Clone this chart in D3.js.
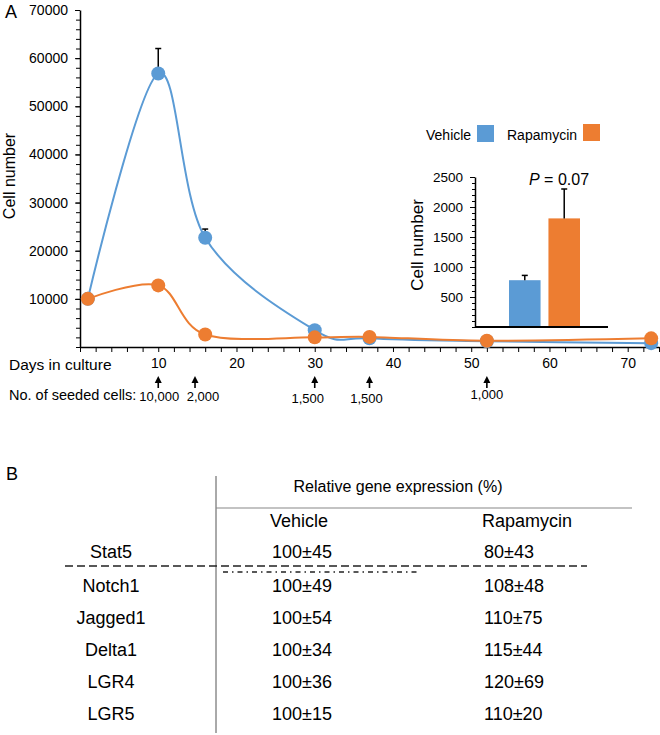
<!DOCTYPE html>
<html>
<head>
<meta charset="utf-8">
<script src="https://cdn.jsdelivr.net/npm/d3@7"></script>
<style>
  body { margin: 0; background: #fff; }
  text { font-family: "Liberation Sans", Arial, sans-serif; fill: #000; }
</style>
</head>
<body>
<svg id="chart"></svg>
<script>
// data
var days = [1, 10, 16, 30, 37, 52, 73];
var vehicleCells = [10000, 56800, 22700, 3500, 1800, 1200, 800];
var vehicleErr = [0, 5200, 1800, 0, 0, 0, 0];
var rapaCells = [10000, 12800, 2600, 2000, 2100, 1300, 1800];
var rapaErr = [0, 0, 0, 0, 0, 0, 0];

var seededDays = [10, 14.7, 30, 37, 52];
var seededLabels = ["10,000", "2,000", "1,500", "1,500", "1,000"];

var insetGroups = ["Vehicle", "Rapamycin"];
var insetValues = [780, 1810];
var insetErr = [80, 490];

var genes = ["Stat5", "Notch1", "Jagged1", "Delta1", "LGR4", "LGR5"];
var vehicleExpr = ["100±45", "100±49", "100±54", "100±34", "100±36", "100±15"];
var rapaExpr = ["80±43", "108±48", "110±75", "115±44", "120±69", "110±20"];

var WIDTH = 660, HEIGHT = 735;
var BLUE = "#5b9bd5", ORANGE = "#ed7d31";
//nudges so the seeded-cell labels sit where the original put them
var SEED_LABEL_DX = [1, 8, -7, -3, 0];
var SEED_LABEL_DY = [0, 0, 2, 2, -2];

var svg = d3.select("#chart")
    .attr("width", WIDTH)
    .attr("height", HEIGHT);

//scales for the main chart
var x = d3.scaleLinear().domain([0, 74]).range([80, 659]);
var y = d3.scaleLinear().domain([0, 70000]).range([347, 10]);

//panel letter
svg.append("text")
    .attr("x", 5).attr("y", 18)
    .style("font-size", "18px")
    .text("A");

//y axis, major then minor ticks
var yAxis = svg.append("g")
    .attr("transform", "translate(80,0)")
    .call(d3.axisLeft(y).tickValues(d3.range(10000, 70001, 10000))
        .tickSize(5).tickPadding(7).tickSizeOuter(0).tickFormat(d3.format("d")));
yAxis.selectAll("text").style("font-size", "14px").style("font-family", "Liberation Sans, Arial, sans-serif");
svg.append("g")
    .attr("transform", "translate(80,0)")
    .call(d3.axisLeft(y).tickValues(d3.range(0, 70001, 2000)).tickSize(4).tickFormat(""))
    .select(".domain").remove();

//x axis
var xAxis = svg.append("g")
    .attr("transform", "translate(0,347)")
    .call(d3.axisBottom(x).tickValues(d3.range(0, 75, 2))
        .tickSize(5).tickPadding(6).tickSizeOuter(0)
        .tickFormat(function (d) { return (d > 0 && d % 10 === 0) ? d : ""; }));
xAxis.selectAll("text").style("font-size", "14px").style("font-family", "Liberation Sans, Arial, sans-serif");
svg.selectAll(".domain").style("stroke-width", 1.5);

//y axis title
svg.append("text")
    .attr("transform", "translate(15,176) rotate(-90)")
    .style("text-anchor", "middle")
    .style("font-size", "16px")
    .text("Cell number");

//x axis title and seeded cell notes
svg.append("text")
    .attr("x", 9).attr("y", 370)
    .style("font-size", "15.5px")
    .text("Days in culture");
svg.append("text")
    .attr("x", 9).attr("y", 400)
    .style("font-size", "14.5px")
    .text("No. of seeded cells:");

var arrows = svg.append("g").attr("class", "seed-arrows");
seededDays.forEach(function (d, i) {
    var ax = x(d);
    arrows.append("line")
        .attr("x1", ax).attr("x2", ax)
        .attr("y1", 388).attr("y2", 381)
        .style("stroke", "#000")
        .style("stroke-width", 1.6);
    arrows.append("path")
        .attr("d", "M" + (ax - 3.5) + ",383L" + ax + ",376L" + (ax + 3.5) + ",383Z")
        .style("fill", "#000");
    arrows.append("text")
        .attr("x", ax + SEED_LABEL_DX[i]).attr("y", 401 + SEED_LABEL_DY[i])
        .style("text-anchor", "middle")
        .style("font-size", "13px")
        .text(seededLabels[i]);
});

//draw a series: smooth line, error bars, dots
function drawSeries(values, errs, color) {
    var pts = days.map(function (d, i) { return { day: d, v: values[i], e: errs[i] }; });
    var line = d3.line()
        .x(function (d) { return x(d.day); })
        .y(function (d) { return y(d.v); })
        .curve(d3.curveCardinal.tension(0));
    svg.append("path")
        .datum(pts)
        .attr("d", line)
        .style("fill", "none")
        .style("stroke", color)
        .style("stroke-width", 2);
    pts.filter(function (d) { return d.e > 0; }).forEach(function (d) {
        svg.append("line")
            .attr("x1", x(d.day)).attr("x2", x(d.day))
            .attr("y1", y(d.v)).attr("y2", y(d.v + d.e))
            .style("stroke", "#000").style("stroke-width", 1.5);
        svg.append("line")
            .attr("x1", x(d.day) - 3).attr("x2", x(d.day) + 3)
            .attr("y1", y(d.v + d.e)).attr("y2", y(d.v + d.e))
            .style("stroke", "#000").style("stroke-width", 1.5);
    });
    svg.selectAll(null)
        .data(pts)
        .enter().append("circle")
        .attr("cx", function (d) { return x(d.day); })
        .attr("cy", function (d) { return y(d.v); })
        .attr("r", 7)
        .style("fill", color);
}
drawSeries(vehicleCells, vehicleErr, BLUE);
drawSeries(rapaCells, rapaErr, ORANGE);

//legend
var legend = svg.append("g").attr("class", "legend");
legend.append("text").attr("x", 426).attr("y", 140).style("font-size", "14px").text("Vehicle");
legend.append("rect").attr("x", 477).attr("y", 125).attr("width", 17).attr("height", 17).style("fill", BLUE);
legend.append("text").attr("x", 507).attr("y", 140).style("font-size", "14px").text("Rapamycin");
legend.append("rect").attr("x", 583).attr("y", 124).attr("width", 17).attr("height", 17).style("fill", ORANGE);

//inset bar chart
var iy = d3.scaleLinear().domain([0, 2500]).range([327, 177]);
var ix = d3.scaleBand().domain(insetGroups).range([509, 580]).paddingInner(0.2);

var iyAxis = svg.append("g")
    .attr("transform", "translate(475,0)")
    .call(d3.axisLeft(iy).tickValues(d3.range(500, 2501, 500))
        .tickSize(5).tickPadding(7).tickSizeOuter(0).tickFormat(d3.format("d")));
iyAxis.selectAll("text").style("font-size", "13.5px").style("font-family", "Liberation Sans, Arial, sans-serif");
iyAxis.select(".domain").style("stroke-width", 1.5);
svg.append("g")
    .attr("transform", "translate(475,0)")
    .call(d3.axisLeft(iy).tickValues(d3.range(0, 2501, 100)).tickSize(3).tickFormat(""))
    .select(".domain").remove();

svg.selectAll(null)
    .data(insetGroups)
    .enter().append("rect")
    .attr("x", function (d) { return ix(d); })
    .attr("y", function (d, i) { return iy(insetValues[i]); })
    .attr("width", ix.bandwidth())
    .attr("height", function (d, i) { return iy(0) - iy(insetValues[i]); })
    .style("fill", function (d, i) { return i === 0 ? BLUE : ORANGE; });

insetGroups.forEach(function (g, i) {
    var cx = ix(g) + ix.bandwidth() / 2;
    var top = iy(insetValues[i] + insetErr[i]);
    svg.append("line")
        .attr("x1", cx).attr("x2", cx)
        .attr("y1", iy(insetValues[i])).attr("y2", top)
        .style("stroke", "#000").style("stroke-width", 1.5);
    svg.append("line")
        .attr("x1", cx - 3).attr("x2", cx + 3)
        .attr("y1", top).attr("y2", top)
        .style("stroke", "#000").style("stroke-width", 1.5);
});

//inset x axis line
svg.append("line")
    .attr("x1", 475).attr("x2", 608)
    .attr("y1", 327).attr("y2", 327)
    .style("stroke", "#000").style("stroke-width", 2);

svg.append("text")
    .attr("transform", "translate(423,245) rotate(-90)")
    .style("text-anchor", "middle")
    .style("font-size", "17px")
    .text("Cell number");

var pText = svg.append("text")
    .attr("x", 529).attr("y", 185)
    .style("font-size", "16px");
pText.append("tspan").style("font-style", "italic").text("P");
pText.append("tspan").text(" = 0.07");

//panel B table
svg.append("text")
    .attr("x", 6).attr("y", 480)
    .style("font-size", "18px")
    .text("B");

svg.append("line")
    .attr("x1", 216).attr("x2", 216)
    .attr("y1", 476).attr("y2", 733)
    .style("stroke", "#555").style("stroke-width", 1);
svg.append("text")
    .attr("x", 398).attr("y", 492)
    .style("text-anchor", "middle")
    .style("font-size", "16px")
    .text("Relative gene expression (%)");
svg.append("line")
    .attr("x1", 216).attr("x2", 632)
    .attr("y1", 508).attr("y2", 508)
    .style("stroke", "#888").style("stroke-width", 1.2);

svg.append("text")
    .attr("x", 299).attr("y", 527)
    .style("text-anchor", "middle")
    .style("font-size", "18px")
    .text("Vehicle");
svg.append("text")
    .attr("x", 527).attr("y", 527)
    .style("text-anchor", "middle")
    .style("font-size", "18px")
    .text("Rapamycin");

//row positions: Stat5 sits above the dashed rule, the rest below
var rowY = d3.scalePoint().domain(genes.slice(1)).range([592, 720]);
function rowBase(g) { return g === "Stat5" ? 558 : rowY(g); }

var rows = svg.selectAll(".row")
    .data(genes)
    .enter().append("g")
    .attr("class", "row");
rows.append("text")
    .attr("x", 111)
    .attr("y", function (d) { return rowBase(d); })
    .style("text-anchor", "middle")
    .style("font-size", "18px")
    .text(function (d) { return d; });
rows.append("text")
    .attr("x", 272)
    .attr("y", function (d) { return rowBase(d); })
    .style("font-size", "18px")
    .text(function (d, i) { return vehicleExpr[i]; });
rows.append("text")
    .attr("x", 484)
    .attr("y", function (d) { return rowBase(d); })
    .style("font-size", "18px")
    .text(function (d, i) { return rapaExpr[i]; });

//dashed rule under Stat5 and dash-dot rule beneath it
svg.append("line")
    .attr("x1", 65).attr("x2", 587)
    .attr("y1", 566).attr("y2", 566)
    .style("stroke", "#222").style("stroke-width", 1.5)
    .style("stroke-dasharray", "8,4");
svg.append("line")
    .attr("x1", 223).attr("x2", 418)
    .attr("y1", 572).attr("y2", 572)
    .style("stroke", "#222").style("stroke-width", 1.5)
    .style("stroke-dasharray", "5,4,1.5,4");
</script>
</body>
</html>
